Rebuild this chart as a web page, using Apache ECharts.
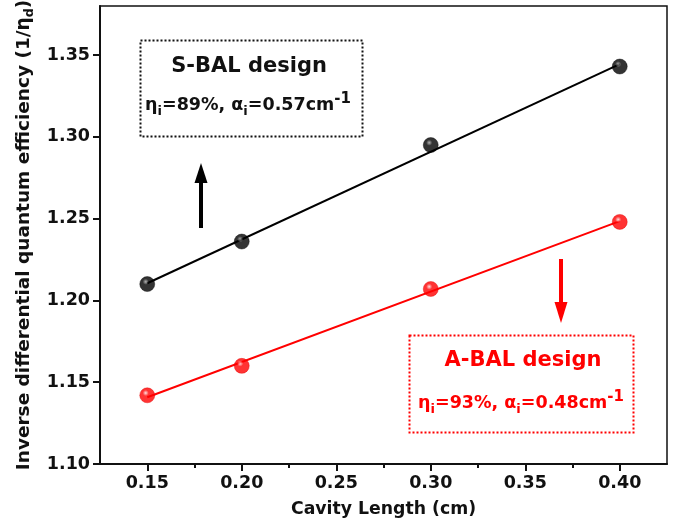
<!DOCTYPE html>
<html>
<head>
<meta charset="utf-8">
<script src="https://cdn.jsdelivr.net/npm/echarts@6/dist/echarts.min.js"></script>
<style>html,body{margin:0;padding:0;background:#fff;}#c{width:675px;height:523px;}</style>
</head>
<body>
<div id="c"></div>
<script>
// ---- data ----
const cavityLength = [0.15, 0.20, 0.30, 0.40];
const sBalValues = [1.210, 1.236, 1.295, 1.343];
const aBalValues = [1.142, 1.160, 1.207, 1.248];
const fitX = [0.15, 0.40];
const sBalFit = [1.2105, 1.3445];
const aBalFit = [1.1408, 1.2485];
const xTicks = [0.15, 0.20, 0.25, 0.30, 0.35, 0.40];
const xMinorTicks = [0.175, 0.225, 0.275, 0.325, 0.375];
const yTicks = [1.10, 1.15, 1.20, 1.25, 1.30, 1.35];

const FONT = '"DejaVu Sans", "Open Sans", sans-serif';
const pts = (xs, ys) => xs.map((x, i) => [x, ys[i]]);

function sphere(base, hi) {
  return new echarts.graphic.RadialGradient(0.4, 0.35, 0.65, [
    { offset: 0, color: hi },
    { offset: 0.3, color: base },
    { offset: 1, color: base }
  ]);
}

const chart = echarts.init(document.getElementById('c'));
const labelStyle = { fontFamily: FONT, fontWeight: 'bold', fontSize: 17.5, color: '#111' };

function richLine(color) {
  return {
    a: { fontFamily: FONT, fontWeight: 'bold', fontSize: 17.5, fill: color, lineHeight: 26 },
    s: { fontFamily: FONT, fontWeight: 'bold', fontSize: 13, fill: color, lineHeight: 16, verticalAlign: 'bottom' },
    p: { fontFamily: FONT, fontWeight: 'bold', fontSize: 15, fill: color, lineHeight: 12, verticalAlign: 'top' }
  };
}

chart.setOption({
  animation: false,
  backgroundColor: '#fff',
  grid: { left: 100, right: 8, top: 6, bottom: 59, outerBoundsMode: 'none', containLabel: false,
          show: true, borderColor: '#111', borderWidth: 1.5, backgroundColor: 'transparent' },
  xAxis: [{
    type: 'value', min: 0.125, max: 0.425,
    name: 'Cavity Length (cm)', nameLocation: 'middle', nameGap: 37,
    nameTextStyle: { fontFamily: FONT, fontWeight: 'bold', fontSize: 17.3, color: '#111' },
    axisLine: { show: true, onZero: false, lineStyle: { color: '#111', width: 2 } },
    axisTick: { show: true, inside: false, length: 7, lineStyle: { color: '#111', width: 2 }, customValues: xTicks },
    axisLabel: Object.assign({ margin: 10, customValues: xTicks, formatter: v => v.toFixed(2) }, labelStyle),
    splitLine: { show: false }
  }, {
    type: 'value', min: 0.125, max: 0.425, position: 'bottom',
    axisLine: { show: false },
    axisTick: { show: true, inside: false, length: 4, lineStyle: { color: '#111', width: 2 }, customValues: xMinorTicks },
    axisLabel: { show: false, customValues: xMinorTicks },
    splitLine: { show: false }
  }],
  yAxis: {
    type: 'value', min: 1.10, max: 1.38,
    name: '{a|Inverse differential quantum efficiency (1/η}{s|d}{a|)}',
    nameLocation: 'middle', nameGap: 62,
    nameTextStyle: {
      fontFamily: FONT, fontWeight: 'bold', fontSize: 18.5, color: '#111',
      rich: {
        a: { fontFamily: FONT, fontWeight: 'bold', fontSize: 18.5, color: '#111', lineHeight: 24 },
        s: { fontFamily: FONT, fontWeight: 'bold', fontSize: 12.5, color: '#111', lineHeight: 15, verticalAlign: 'bottom' }
      }
    },
    axisLine: { show: true, lineStyle: { color: '#111', width: 2 } },
    axisTick: { show: true, inside: false, length: 7, lineStyle: { color: '#111', width: 2 }, customValues: yTicks },
    axisLabel: Object.assign({ margin: 10, customValues: yTicks, formatter: v => v.toFixed(2) }, labelStyle),
    splitLine: { show: false }
  },
  series: [
    { type: 'line', data: pts(fitX, sBalFit), symbol: 'none', lineStyle: { color: '#000', width: 2 }, z: 2 },
    { type: 'line', data: pts(fitX, aBalFit), symbol: 'none', lineStyle: { color: '#ff0000', width: 2 }, z: 2 },
    { type: 'scatter', data: pts(cavityLength, sBalValues), symbol: 'circle', symbolSize: 15,
      itemStyle: { color: sphere('#000000', '#a0a0a0'), borderColor: '#000', borderWidth: 0.5 }, z: 3 },
    { type: 'scatter', data: pts(cavityLength, aBalValues), symbol: 'circle', symbolSize: 15,
      itemStyle: { color: sphere('#ff0000', '#ffd8d8'), borderColor: '#e00000', borderWidth: 0.5 }, z: 3 }
  ],
  graphic: [
    // S-BAL box
    { type: 'rect', shape: { x: 140.5, y: 40.5, width: 222, height: 96 },
      style: { fill: 'none', stroke: '#111', lineWidth: 2, lineDash: [2, 2] }, z: 10 },
    { type: 'text', x: 249, y: 67, style: { text: 'S-BAL design', fontFamily: FONT, fontWeight: 'bold', fontSize: 21, fill: '#111', align: 'center', verticalAlign: 'middle' }, z: 10 },
    { type: 'text', x: 248, y: 105, style: {
        text: '{a|η}{s|i}{a|=89%, α}{s|i}{a|=0.57cm}{p|-1}',
        align: 'center', verticalAlign: 'middle', rich: richLine('#111') }, z: 10 },
    // A-BAL box
    { type: 'rect', shape: { x: 409.5, y: 335.5, width: 224, height: 97 },
      style: { fill: 'none', stroke: '#ff0000', lineWidth: 2, lineDash: [2, 2] }, z: 10 },
    { type: 'text', x: 523, y: 361, style: { text: 'A-BAL design', fontFamily: FONT, fontWeight: 'bold', fontSize: 21, fill: '#ff0000', align: 'center', verticalAlign: 'middle' }, z: 10 },
    { type: 'text', x: 521, y: 403, style: {
        text: '{a|η}{s|i}{a|=93%, α}{s|i}{a|=0.48cm}{p|-1}',
        align: 'center', verticalAlign: 'middle', rich: richLine('#ff0000') }, z: 10 },
    // black arrow up
    { type: 'line', shape: { x1: 201, y1: 228, x2: 201, y2: 178 }, style: { stroke: '#000', lineWidth: 4 }, z: 10 },
    { type: 'polygon', shape: { points: [[201, 163], [194.5, 183], [207.5, 183]] }, style: { fill: '#000' }, z: 10 },
    // red arrow down
    { type: 'line', shape: { x1: 561, y1: 259, x2: 561, y2: 306 }, style: { stroke: '#ff0000', lineWidth: 4 }, z: 10 },
    { type: 'polygon', shape: { points: [[561, 323], [554.5, 302], [567.5, 302]] }, style: { fill: '#ff0000' }, z: 10 }
  ]
});
</script>
</body>
</html>
